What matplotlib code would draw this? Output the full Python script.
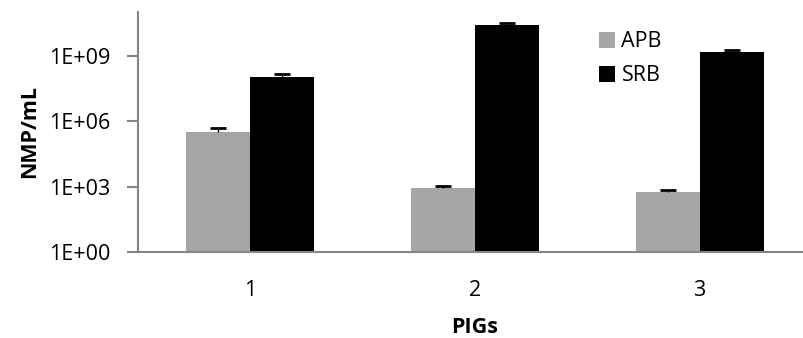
import matplotlib.pyplot as plt
import numpy as np

# data (log scale)
pigs = ["1", "2", "3"]
apb = [3.3e5, 840, 590]
apb_err = [1.4e5, 220, 140]
srb = [1.05e8, 2.5e10, 1.45e9]
srb_err = [0.35e8, 0.7e10, 0.4e9]

plt.rcParams['font.family'] = ['Open Sans', 'DejaVu Sans']

fig = plt.figure(figsize=(8.04, 3.38), dpi=100)
# axes spans x 138..812 px, y 12..252 px
ax = fig.add_axes([138 / 804, 1 - 252 / 338, 674 / 804, 240 / 338])

x = np.arange(len(pigs))
w = 0.285
ax.bar(x - w / 2, apb, w, color="#A6A6A6", label="APB", bottom=1)
ax.bar(x + w / 2, srb, w, color="black", label="SRB", bottom=1)

# plus-only error bars with a cap on top
for xs, vals, errs in [(x - w / 2, apb, apb_err), (x + w / 2, srb, srb_err)]:
    tops = np.array(vals) + np.array(errs)
    ax.vlines(xs, vals, tops, color="black", lw=1)
    ax.plot(xs, tops, ls="none", marker="_", ms=11, mew=2, color="black")

ax.set_yscale("log")
ax.set_ylim(1, 1e11)
ax.set_xlim(-0.5, 2.5)
ax.set_yticks([1, 1e3, 1e6, 1e9])
ax.set_yticklabels(["1E+00", "1E+03", "1E+06", "1E+09"])
ax.minorticks_off()
ax.set_xticks(x)
ax.set_xticklabels(pigs)
ax.tick_params(axis="x", length=0, labelsize=15.5, pad=20)
ax.tick_params(axis="y", length=8, color="#868686", labelsize=15.5, width=1.5, pad=12)

for s in ["top", "right"]:
    ax.spines[s].set_visible(False)
for s in ["left", "bottom"]:
    ax.spines[s].set_color("#868686")
    ax.spines[s].set_linewidth(1.5)

ax.set_ylabel("NMP/mL", fontsize=15.5, fontweight="bold", labelpad=6)
ax.set_xlabel("PIGs", fontsize=15.5, fontweight="bold", labelpad=12)

ax.legend(loc="upper left", bbox_to_anchor=(0.655, 1.0), frameon=False, fontsize=15.5,
          handlelength=0.75, handleheight=0.75, handletextpad=0.3, labelspacing=0.6,
          borderaxespad=0.5)

fig.savefig("out.png", dpi=100)
